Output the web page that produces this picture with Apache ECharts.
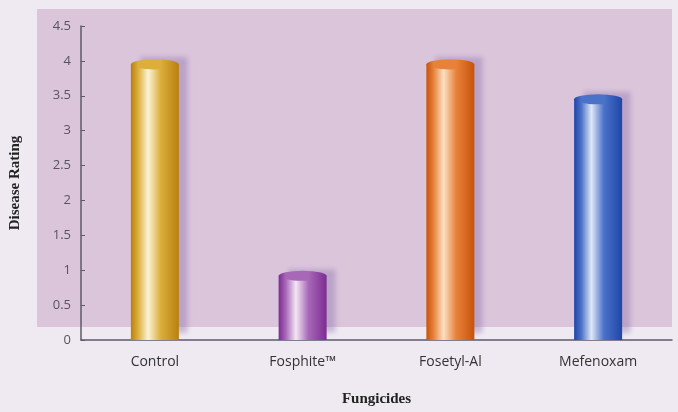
<!DOCTYPE html>
<html lang="en">
<head>
    <meta charset="UTF-8" />
    <title>Disease Rating by Fungicide</title>
    <script src="https://cdn.jsdelivr.net/npm/echarts@6/dist/echarts.min.js"></script>
    <style>
        html, body { margin: 0; padding: 0; background: #efeaf2; }
        #chart { width: 678px; height: 412px; }
    </style>
</head>
<body>
    <div id="chart"></div>
    <script type="text/javascript">
        // data
        const categories = ["Control", "Fosphite\u2122", "Fosetyl-Al", "Mefenoxam"];
        const ratings = [3.95, 0.92, 3.95, 3.45];
        const yTicks = [0, 0.5, 1, 1.5, 2, 2.5, 3, 3.5, 4, 4.5];

        // cylinder colours: edge, mid, highlight
        const palette = [
            ["#b8800e", "#dcae3c", "#fbf3d6"],
            ["#7c2c92", "#a868b8", "#f4e6f4"],
            ["#c8520a", "#e8823a", "#fbe0c4"],
            ["#1f46a8", "#4a72c8", "#dfe6f6"]
        ];

        function cyl(c) {
            return {
                type: 'linear', x: 0, y: 0, x2: 1, y2: 0,
                colorStops: [
                    { offset: 0, color: c[0] },
                    { offset: 0.15, color: c[1] },
                    { offset: 0.36, color: c[2] },
                    { offset: 0.62, color: c[1] },
                    { offset: 1, color: c[0] }
                ]
            };
        }

        let chart = echarts.init(document.getElementById('chart'), null, { renderer: 'canvas' });

        let option = {
            backgroundColor: '#efeaf2',
            animation: false,
            graphic: [
                // the pink back wall of the 3d plot
                { type: 'rect', z: -10, shape: { x: 37, y: 9, width: 635, height: 318 }, style: { fill: '#dac5db' } }
            ],
            grid: { left: 78, right: 6, top: 26, bottom: 72 },
            xAxis: {
                type: 'category',
                data: categories,
                name: 'Fungicides',
                nameLocation: 'middle',
                nameGap: 52,
                nameTextStyle: { fontFamily: 'Liberation Serif', fontWeight: 'bold', fontSize: 15, color: '#222' },
                axisLine: { lineStyle: { color: '#5c5a6c', width: 1.5 } },
                axisTick: { inside: true, length: 4, lineStyle: { color: '#5c5a6c' } },
                axisLabel: { fontFamily: 'Open Sans', fontSize: 14, color: '#333', margin: 15 }
            },
            yAxis: {
                type: 'value',
                min: 0, max: 4.5, interval: 0.5,
                name: 'Disease Rating',
                nameLocation: 'middle',
                nameGap: 58,
                nameTextStyle: { fontFamily: 'Liberation Serif', fontWeight: 'bold', fontSize: 15, color: '#222' },
                axisLine: { show: true, lineStyle: { color: '#5c5a6c', width: 1.5 } },
                axisTick: { show: true, inside: true, length: 4, lineStyle: { color: '#5c5a6c' } },
                splitLine: { show: false },
                axisLabel: {
                    fontFamily: 'Open Sans', fontSize: 13, color: '#58545e', margin: 10,
                    formatter: v => yTicks.includes(v) ? String(v) : ''
                }
            },
            series: [
                {
                    type: 'bar',
                    barWidth: 48,
                    data: ratings.map((v, i) => ({
                        value: v,
                        itemStyle: {
                            color: cyl(palette[i]),
                            shadowColor: 'rgba(140, 110, 170, 0.4)',
                            shadowBlur: 5,
                            shadowOffsetX: 9,
                            shadowOffsetY: -7
                        }
                    })),
                    z: 2
                },
                {
                    // top caps of the cylinders
                    type: 'pictorialBar',
                    symbol: 'circle',
                    symbolSize: [48, 10],
                    symbolPosition: 'end',
                    symbolOffset: [0, '-50%'],
                    data: ratings.map((v, i) => ({
                        value: v,
                        itemStyle: { color: cyl([palette[i][0], palette[i][1], palette[i][1]]) }
                    })),
                    z: 3
                }
            ]
        };
        chart.setOption(option);
    </script>
</body>
</html>
